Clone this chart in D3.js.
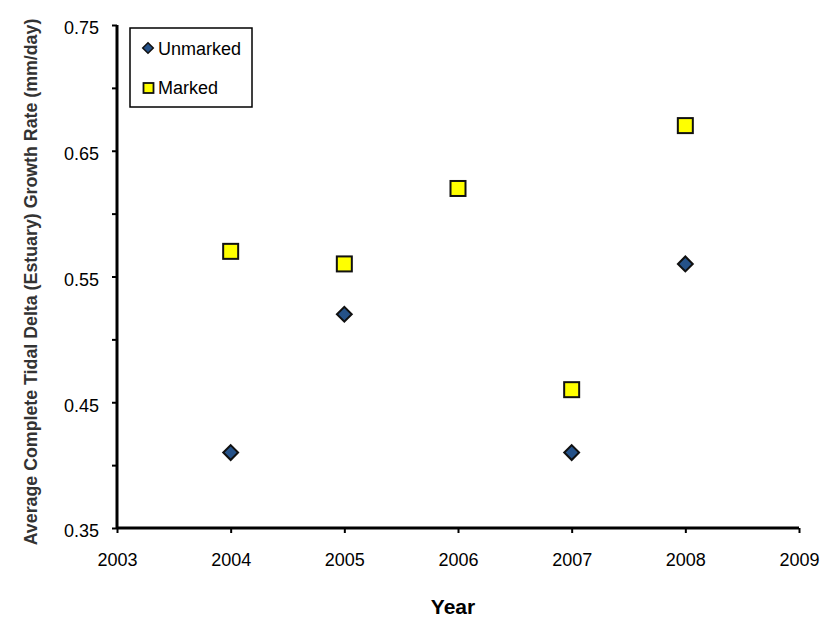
<!DOCTYPE html>
<html><head><meta charset="utf-8">
<script src="https://cdn.jsdelivr.net/npm/d3@7"></script>
<style>body{margin:0;background:#fff}svg{display:block}text{font-family:"Liberation Sans",Arial,sans-serif}</style>
</head><body><svg id="c" width="836" height="629"></svg>
<script>
const unmarkedYears = [2004, 2005, 2007, 2008];
const unmarkedValues = [0.41, 0.52, 0.41, 0.56];
const markedYears = [2004, 2005, 2006, 2007, 2008];
const markedValues = [0.57, 0.56, 0.62, 0.46, 0.67];
const xTicks = [2003, 2004, 2005, 2006, 2007, 2008, 2009];
const yTicks = [0.35, 0.40, 0.45, 0.50, 0.55, 0.60, 0.65, 0.70, 0.75];
const yLabels = [0.35, 0.45, 0.55, 0.65, 0.75];

const svg = d3.select("#c");
const x = d3.scaleLinear().domain([2003, 2009]).range([117, 799]);
const y = d3.scaleLinear().domain([0.35, 0.75]).range([528, 25]);

// y axis
const ya = svg.append("g").attr("transform", "translate(117,0)")
  .call(d3.axisLeft(y).tickValues(yTicks).tickSize(5).tickFormat(d => yLabels.some(v => Math.abs(v - d) < 1e-9) ? d3.format(".2f")(d) : ""));
ya.select(".domain").attr("stroke", "#000").attr("stroke-width", 3).attr("d", `M0,${y(0.75)}V${y(0.35)}`);
ya.selectAll(".tick line").attr("stroke", "#000").attr("stroke-width", 2);
ya.selectAll(".tick text").attr("x", -18).attr("y", 3).attr("font-size", 18).attr("fill", "#000");

// x axis
const xa = svg.append("g").attr("transform", "translate(0,528)")
  .call(d3.axisBottom(x).tickValues(xTicks).tickSize(5).tickFormat(d3.format("d")));
xa.select(".domain").attr("stroke", "#000").attr("stroke-width", 3).attr("d", `M${x(2003)},0H${x(2009)}`);
xa.selectAll(".tick line").attr("stroke", "#000").attr("stroke-width", 2);
xa.selectAll(".tick text").attr("y", 38).attr("dy", null).attr("font-size", 18).attr("fill", "#000");

// titles
svg.append("text").attr("x", 453).attr("y", 614).attr("text-anchor", "middle")
  .attr("font-size", 21).attr("font-weight", "bold").attr("fill", "#000").text("Year");
svg.append("text").attr("transform", "translate(37,282) rotate(-90)").attr("text-anchor", "middle")
  .attr("font-size", 17.8).attr("font-weight", "bold").attr("fill", "#333")
  .text("Average Complete Tidal Delta (Estuary) Growth Rate (mm/day)");

const diamond = d3.symbol().type(d3.symbolSquare).size(110);
// markers
svg.append("g").selectAll("rect").data(markedYears.map((d, i) => [d, markedValues[i]])).join("rect")
  .attr("x", d => x(d[0]) - 7.5).attr("y", d => y(d[1]) - 7.5).attr("width", 15).attr("height", 15)
  .attr("fill", "#ffff00").attr("stroke", "#111").attr("stroke-width", 2);
svg.append("g").selectAll("path").data(unmarkedYears.map((d, i) => [d, unmarkedValues[i]])).join("path")
  .attr("d", diamond).attr("transform", d => `translate(${x(d[0])},${y(d[1])}) rotate(45)`)
  .attr("fill", "#255289").attr("stroke", "#111").attr("stroke-width", 2);

// legend
const lg = svg.append("g");
lg.append("rect").attr("x", 130).attr("y", 28).attr("width", 122).attr("height", 79)
  .attr("fill", "#fff").attr("stroke", "#000").attr("stroke-width", 1.5);
lg.append("path").attr("d", d3.symbol().type(d3.symbolSquare).size(56))
  .attr("transform", "translate(148,48) rotate(45)").attr("fill", "#255289").attr("stroke", "#111").attr("stroke-width", 1.5);
lg.append("rect").attr("x", 143.5).attr("y", 83).attr("width", 10).attr("height", 10)
  .attr("fill", "#ffff00").attr("stroke", "#111").attr("stroke-width", 1.8);
lg.append("text").attr("x", 158).attr("y", 55).attr("font-size", 18).attr("fill", "#000").text("Unmarked");
lg.append("text").attr("x", 158).attr("y", 94).attr("font-size", 18).attr("fill", "#000").text("Marked");
</script></body></html>
